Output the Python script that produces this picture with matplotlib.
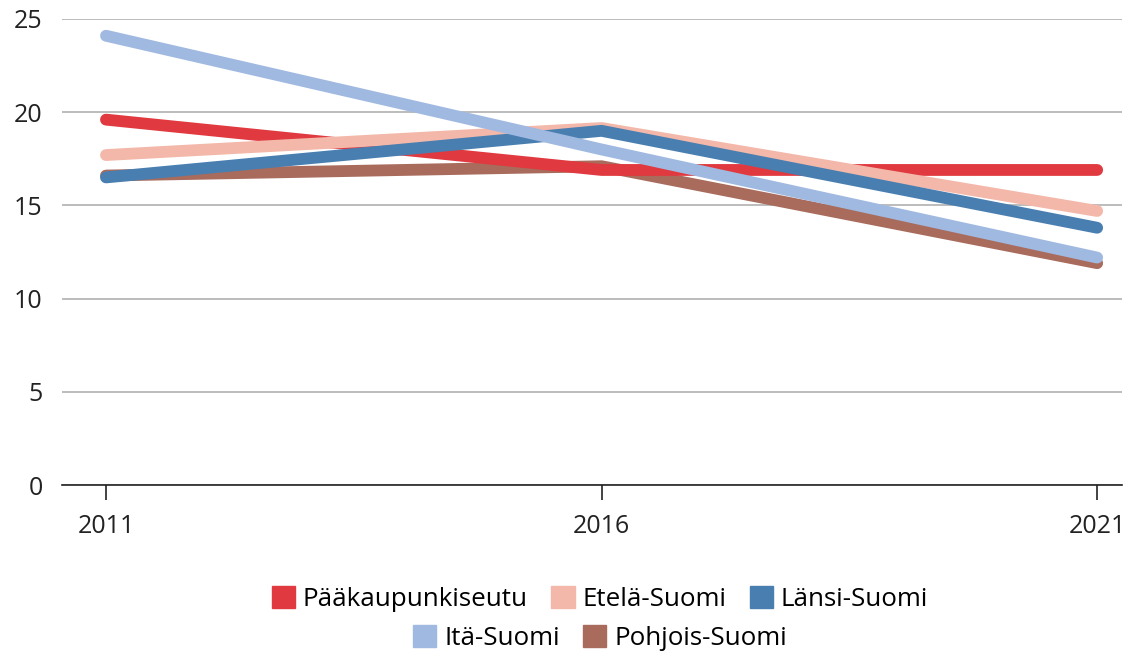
import matplotlib.pyplot as plt
from matplotlib.patches import Patch

plt.rcParams['font.family'] = ['Open Sans', 'DejaVu Sans']

years = [2011, 2016, 2021]
alueet = ["Pääkaupunkiseutu", "Etelä-Suomi", "Länsi-Suomi", "Itä-Suomi", "Pohjois-Suomi"]
paakaupunki = [19.6, 16.9, 16.9]
etela = [17.7, 19.15, 14.7]
lansi = [16.5, 19.0, 13.8]
ita = [24.1, 18.0, 12.2]
pohjois = [16.6, 17.1, 11.9]
sarjat = [paakaupunki, etela, lansi, ita, pohjois]
varit = ["#e0393f", "#f3b8a9", "#497eb0", "#a0b9e1", "#a86b5c"]
zorders = [4, 5, 6, 7, 3]

fig = plt.figure(figsize=(11.35, 6.54), dpi=100)
ax = fig.add_axes([0.0546, 0.2584, 0.9339, 0.7126])

for s, c, z in zip(sarjat, varit, zorders):
    ax.plot(years, s, color=c, lw=8.5, solid_capstyle='round', solid_joinstyle='round', zorder=z)

ax.set_xlim(2010.556, 2021.25)
ax.set_ylim(0, 25)
ax.set_yticks([0, 5, 10, 15, 20, 25])
ax.set_xticks(years)
ax.yaxis.grid(True, color='#b0b0b0', lw=1.2)
ax.set_axisbelow(True)
for sp in ['top', 'right', 'left']:
    ax.spines[sp].set_visible(False)
ax.spines['bottom'].set_color('#222222')
ax.spines['bottom'].set_linewidth(1.2)
ax.tick_params(axis='y', length=0, labelsize=18, pad=14, colors='#222222')
ax.tick_params(axis='x', length=11, width=1.2, direction='out', labelsize=18, pad=10, colors='#222222')

handles = [Patch(color=c) for c in varit]
leg1 = fig.legend(handles[:3], alueet[:3], loc='center', bbox_to_anchor=(0.5286, 0.084), ncol=3,
                  frameon=False, fontsize=18.7, handlelength=0.9, handleheight=0.9,
                  handletextpad=0.3, columnspacing=0.9)
leg2 = fig.legend(handles[3:], alueet[3:], loc='center', bbox_to_anchor=(0.5286, 0.024), ncol=2,
                  frameon=False, fontsize=18.7, handlelength=0.9, handleheight=0.9,
                  handletextpad=0.3, columnspacing=0.9)

fig.savefig("out.png", dpi=100)
